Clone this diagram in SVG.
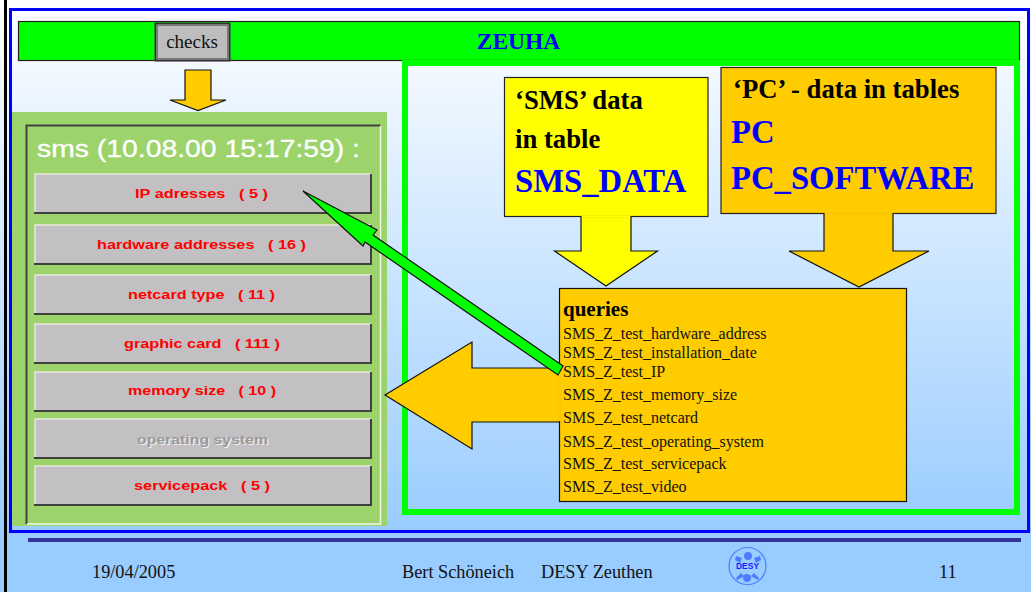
<svg xmlns="http://www.w3.org/2000/svg" width="1031" height="592" viewBox="0 0 1031 592">
<defs>
<linearGradient id="bg" x1="0" y1="0" x2="0" y2="1"><stop offset="0" stop-color="#ffffff"/><stop offset="0.9" stop-color="#99ccff"/><stop offset="1" stop-color="#99ccff"/></linearGradient>
</defs>
<style>
.s{font-family:"Liberation Serif","Times New Roman",serif}
.h{font-family:"Liberation Sans",Arial,sans-serif}
.shape{stroke:#111;stroke-width:1.2}
.btn{fill:#c2c0c2}
.hi{fill:none;stroke:#e6e8dc;stroke-width:1.5}
.lo{fill:none;stroke:#404040;stroke-width:2}
.bt{font-family:"Liberation Sans",Arial,sans-serif;font-weight:700;font-size:13px;fill:#ff0000;white-space:pre}
.dis{fill:#9a9a9a;text-shadow:1px 1px 0 #f0f0f0}
.big{font-family:"Liberation Serif","Times New Roman",serif;font-weight:700;font-size:32.700px;fill:#0000ff}
.mid{font-family:"Liberation Serif","Times New Roman",serif;font-weight:700;font-size:26.700px;fill:#000}
.q{font-family:"Liberation Serif","Times New Roman",serif;font-size:16px;fill:#111}
.f{font-family:"Liberation Serif","Times New Roman",serif;font-size:18.300px;fill:#111}
</style>
<rect width="1031" height="592" fill="url(#bg)"/>
<rect x="4" y="-2" width="3" height="596" fill="#000"/>
<rect x="10.500" y="9.500" width="1018" height="522" fill="none" stroke="#0000ff" stroke-width="3"/>
<rect x="28" y="538" width="993" height="4" fill="#333399"/>

<g id="header">
<rect x="18.500" y="21.500" width="1001" height="39" fill="#00ff00" stroke="#222" stroke-width="1.200"/>
<text x="518.500" y="49" text-anchor="middle" font-size="23.500" font-weight="700" fill="#0000ff" class="s">ZEUHA</text>
</g>
<g id="checks">
<rect x="155.500" y="23.500" width="74" height="37" fill="#bdbdbd" stroke="#333" stroke-width="2"/>
<rect x="157.500" y="25.500" width="70" height="33" fill="none" stroke="#777" stroke-width="1"/>
<text x="192" y="48" text-anchor="middle" font-size="19" fill="#111" class="s">checks</text>
</g>

<g id="panel">
<rect x="12" y="112" width="375" height="414" fill="#9dd36b"/>
<path d="M26.500 524V125.500H380.500" fill="none" stroke="#404040" stroke-width="2"/>
<path d="M380.500 126V524H27" fill="none" stroke="#f4f6ea" stroke-width="1.500"/>
<text x="37" y="157" font-size="23" fill="#fff" stroke="#fff" stroke-width=".3" class="h" textLength="323" lengthAdjust="spacingAndGlyphs" xml:space="preserve">sms (10.08.00 15:17:59) :</text>
</g>
<g id="btn-ip"><rect class="btn" x="35" y="174" width="336" height="39"/><path class="hi" d="M35 213V174H371"/><path class="lo" d="M371 174V213H34"/><text class="bt" x="135" y="198" textLength="133" lengthAdjust="spacingAndGlyphs" xml:space="preserve">IP adresses   ( 5 )</text></g>
<g id="btn-hw"><rect class="btn" x="35" y="225" width="336" height="39"/><path class="hi" d="M35 264V225H371"/><path class="lo" d="M371 225V264H34"/><text class="bt" x="97" y="249" textLength="209" lengthAdjust="spacingAndGlyphs" xml:space="preserve">hardware addresses   ( 16 )</text></g>
<g id="btn-net"><rect class="btn" x="35" y="275" width="336" height="39"/><path class="hi" d="M35 314V275H371"/><path class="lo" d="M371 275V314H34"/><text class="bt" x="128" y="299" textLength="147" lengthAdjust="spacingAndGlyphs" xml:space="preserve">netcard type   ( 11 )</text></g>
<g id="btn-gfx"><rect class="btn" x="35" y="324" width="336" height="39"/><path class="hi" d="M35 363V324H371"/><path class="lo" d="M371 324V363H34"/><text class="bt" x="124" y="348" textLength="156" lengthAdjust="spacingAndGlyphs" xml:space="preserve">graphic card   ( 111 )</text></g>
<g id="btn-mem"><rect class="btn" x="35" y="372" width="336" height="39"/><path class="hi" d="M35 411V372H371"/><path class="lo" d="M371 372V411H34"/><text class="bt" x="128" y="395" textLength="148" lengthAdjust="spacingAndGlyphs" xml:space="preserve">memory size   ( 10 )</text></g>
<g id="btn-os"><rect class="btn" x="35" y="419" width="336" height="39"/><path class="hi" d="M35 458V419H371"/><path class="lo" d="M371 419V458H34"/><text class="bt dis" x="137" y="444" textLength="131" lengthAdjust="spacingAndGlyphs">operating system</text></g>
<g id="btn-sp"><rect class="btn" x="35" y="466" width="336" height="39"/><path class="hi" d="M35 505V466H371"/><path class="lo" d="M371 466V505H34"/><text class="bt" x="134" y="490" textLength="136" lengthAdjust="spacingAndGlyphs" xml:space="preserve">servicepack   ( 5 )</text></g>

<g id="frame"><rect x="405" y="63" width="612" height="449" fill="none" stroke="#00ff00" stroke-width="6"/></g>

<g id="connectors">
<path class="shape" fill="#ffcc00" d="M185 70H211V100H226L198 110.500L170 100H185Z"/>
<path class="shape" fill="#ffff00" d="M581 216H631V251H657.500L606 286L554.500 251H581Z"/>
<path class="shape" fill="#ffcc00" d="M824 213H893V251H929L859 287L789 251H824Z"/>
<path class="shape" fill="#ffcc00" d="M559 368H472V342L385 395L472 449V422H559"/>
</g>

<g id="sms-data">
<rect x="504.500" y="77.500" width="203.500" height="139" fill="#ffff00" stroke="#222" stroke-width="1.200"/>
<text class="mid" x="515" y="109">‘SMS’ data</text>
<text class="mid" x="515" y="148">in table</text>
<text class="big" x="515" y="192">SMS_DATA</text>
</g>
<path d="M581.600 216.500H630.400" stroke="#ffff00" stroke-width="2" fill="none"/>
<g id="pc-data">
<rect x="721" y="67.500" width="275" height="146" fill="#ffcc00" stroke="#222" stroke-width="1.200"/>
<text class="mid" x="733" y="98">‘PC’ - data in tables</text>
<text class="big" x="731" y="143">PC</text>
<text class="big" x="731" y="189">PC_SOFTWARE</text>
</g>
<path d="M824.600 213.500H892.400" stroke="#ffcc00" stroke-width="2" fill="none"/>
<g id="queries">
<rect x="559.500" y="288.500" width="347" height="213" fill="#ffcc00" stroke="#111" stroke-width="1.200"/>
<path d="M559.500 369V421" stroke="#ffcc00" stroke-width="2.500" fill="none"/>
<text x="563" y="316" font-size="21" font-weight="700" fill="#000" class="s">queries</text>
<text class="q" x="563" y="339">SMS_Z_test_hardware_address</text>
<text class="q" x="563" y="358">SMS_Z_test_installation_date</text>
<text class="q" x="563" y="377">SMS_Z_test_IP</text>
<text class="q" x="563" y="400">SMS_Z_test_memory_size</text>
<text class="q" x="563" y="423">SMS_Z_test_netcard</text>
<text class="q" x="563" y="447">SMS_Z_test_operating_system</text>
<text class="q" x="563" y="469">SMS_Z_test_servicepack</text>
<text class="q" x="563" y="492">SMS_Z_test_video</text>
</g>
<g id="green-arrow">
<path class="shape" fill="#00ff00" d="M303 191L377 230L373 235L563 366L558 375L365 242L363 246Z"/>
</g>
<g id="footer">
<text class="f" x="92" y="578">19/04/2005</text>
<text class="f" x="402" y="578">Bert Schöneich<tspan x="541">DESY Zeuthen</tspan></text>
<text class="f" x="939" y="578">11</text>
</g>
<g id="logo">
<circle cx="747.500" cy="566" r="18.500" fill="none" stroke="#4d7cff" stroke-width="1.200"/>
<circle cx="748" cy="556" r="4" fill="#4d7cff"/><circle cx="747" cy="578" r="4" fill="#4d7cff"/>
<path d="M736 556l6 2-2 5-5-3zM760 556l-6 2 2 5 5-3zM736 578l5-5 3 3-3 2-4 2zM759 578l-5-5-3 3 3 2 4 2z" fill="#4d7cff"/>
<text x="747.500" y="569" text-anchor="middle" font-size="8.500" font-weight="700" fill="#1a1aff" class="h">DESY</text>
</g>
</svg>
